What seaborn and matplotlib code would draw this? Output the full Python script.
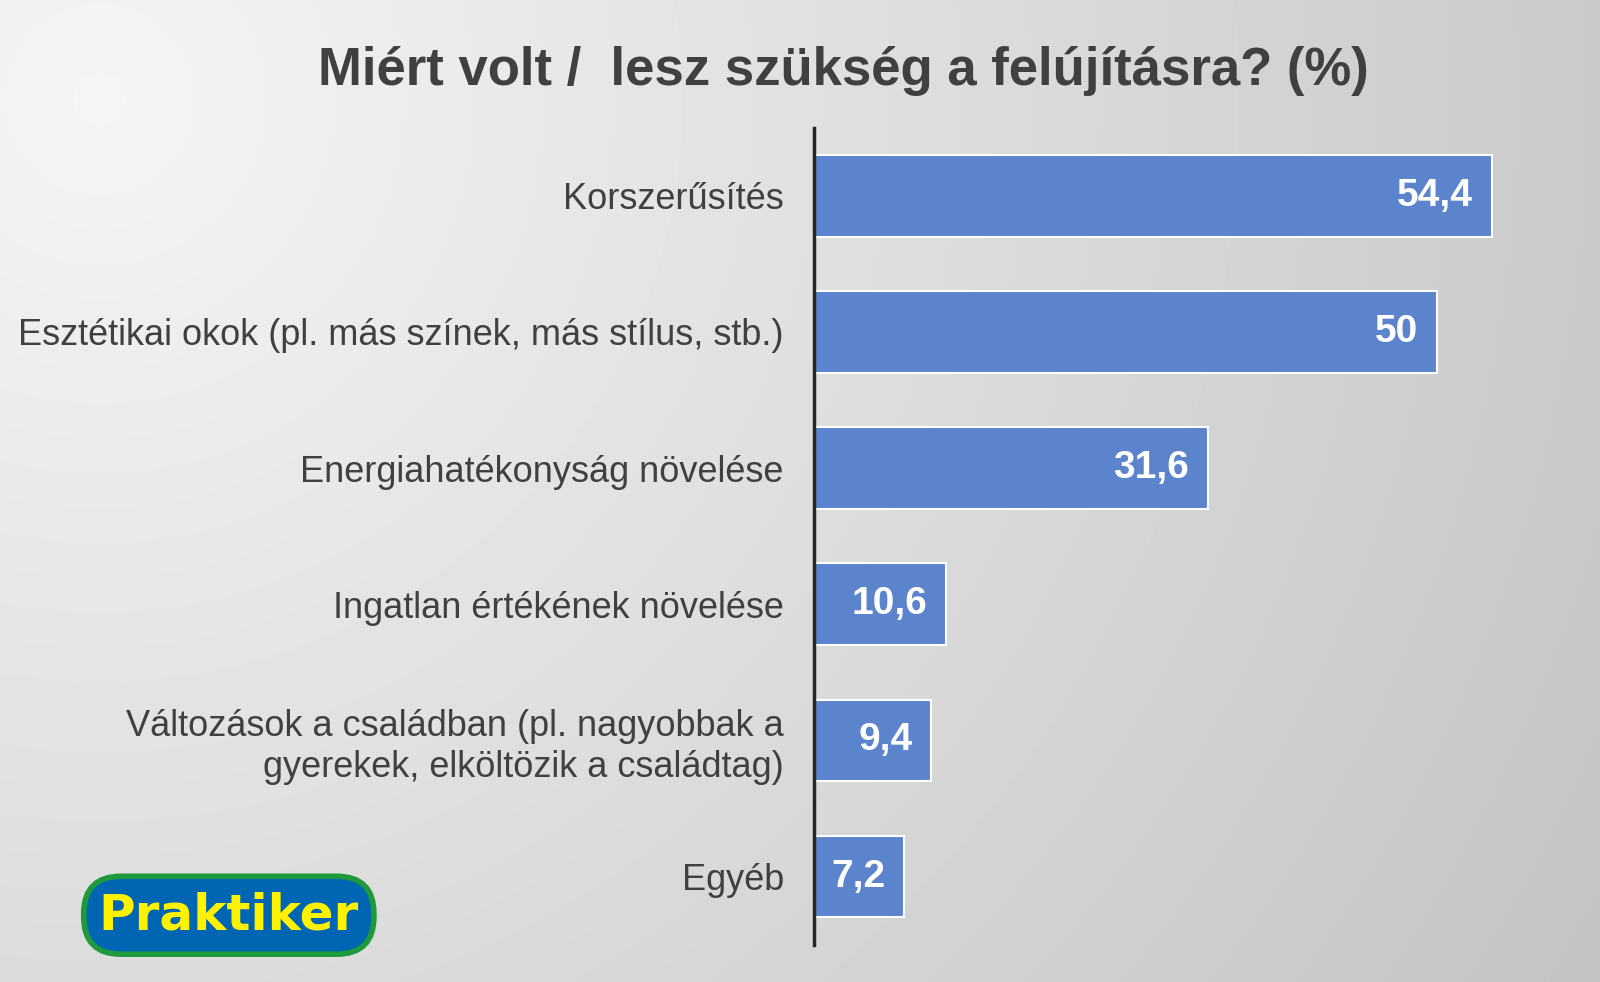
from matplotlib import pyplot as plt
import seaborn as sns
import pandas as pd
import numpy as np


def plotar_motivos(df: pd.DataFrame) -> None:
    """Plota o gráfico de barras horizontais com os motivos da felújítás
    """
    fig = plt.figure(figsize=(16, 9.82), dpi=100)

    # Fundo com gradiente radial
    bg = fig.add_axes([0, 0, 1, 1], zorder=0)
    yy, xx = np.mgrid[0:1:300j, 0:1.63:490j]
    dist = np.sqrt((xx - 0.1) ** 2 + (yy - 0.1) ** 2)
    grad = 0.96 - 0.11 * dist
    bg.imshow(grad, cmap='gray', vmin=0, vmax=1, aspect='auto', extent=[0, 1, 1, 0],
              interpolation='bicubic')
    bg.axis('off')

    ax = fig.add_axes([0.509, 0.038, 0.467, 0.832], zorder=1)
    ax.patch.set_alpha(0)
    sns.barplot(data=df, x='valor', y='motivo', ax=ax, color='#5B84CC',
                width=0.6, edgecolor='white', linewidth=1.5, saturation=1)

    for i, v in enumerate(df['valor']):
        txt = f'{v:g}'.replace('.', ',')
        ax.text(v - 1.5, i, txt, ha='right', va='center', color='white',
                fontsize=28, fontweight='bold', family='Liberation Sans')

    ax.set_xlim(0, 60)
    ax.set_xlabel('')
    ax.set_ylabel('')
    ax.set_xticks([])
    ax.tick_params(axis='y', length=0, pad=22, labelsize=26, labelcolor='#404040')
    for lbl in ax.get_yticklabels():
        lbl.set_family('Liberation Sans')
        lbl.set_horizontalalignment('right')
    for s in ['top', 'right', 'bottom']:
        ax.spines[s].set_visible(False)
    ax.spines['left'].set_linewidth(2.5)
    ax.spines['left'].set_color('#262626')

    fig.text(0.527, 0.928, 'Miért volt /  lesz szükség a felújításra? (%)', ha='center',
             va='center', fontsize=38, fontweight='bold', color='#404040',
             family='Liberation Sans')

    # Logo
    fig.text(0.143, 0.068, 'Praktiker', ha='center', va='center', fontsize=36,
             fontweight='heavy', color='#FFF200', family='DejaVu Sans', zorder=3,
             bbox=dict(boxstyle='round,pad=0.3,rounding_size=0.75', facecolor='#0066B3',
                       edgecolor='#1E9A3C', linewidth=4))

    plt.savefig('out.png', dpi=100)


dados = pd.DataFrame({
    'motivo': ['Korszerűsítés',
               'Esztétikai okok (pl. más színek, más stílus, stb.)',
               'Energiahatékonyság növelése',
               'Ingatlan értékének növelése',
               'Változások a családban (pl. nagyobbak a\ngyerekek, elköltözik a családtag)',
               'Egyéb'],
    'valor': [54.4, 50, 31.6, 10.6, 9.4, 7.2]})

plotar_motivos(dados)
